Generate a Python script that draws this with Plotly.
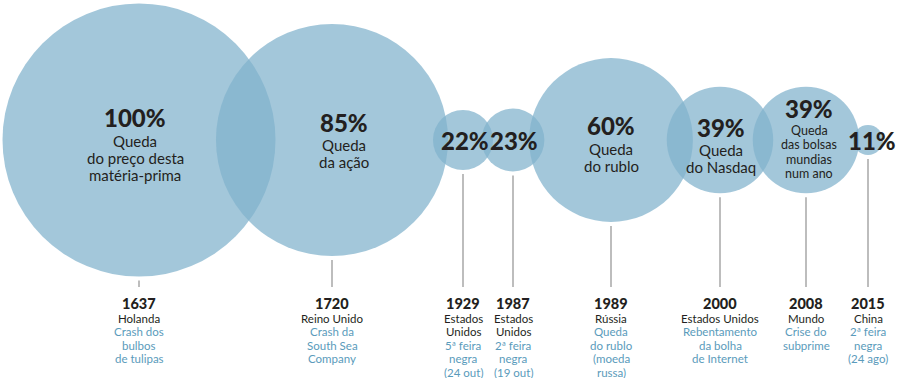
import plotly.graph_objects as go

# ---- data ----
values = [100, 85, 22, 23, 60, 39, 39, 11]
pct_labels = ["100%", "85%", "22%", "23%", "60%", "39%", "39%", "11%"]
inner_text = [
    ["Queda", "do preço desta", "matéria-prima"],
    ["Queda", "da ação"],
    [],
    [],
    ["Queda", "do rublo"],
    ["Queda", "do Nasdaq"],
    ["Queda", "das bolsas", "mundias", "num ano"],
    [],
]
years = ["1637", "1720", "1929", "1987", "1989", "2000", "2008", "2015"]
countries = [
    ["Holanda"],
    ["Reino Unido"],
    ["Estados", "Unidos"],
    ["Estados", "Unidos"],
    ["Rússia"],
    ["Estados Unidos"],
    ["Mundo"],
    ["China"],
]
events = [
    ["Crash dos", "bulbos", "de tulipas"],
    ["Crash da", "South Sea", "Company"],
    ["5ª feira", "negra", "(24 out)"],
    ["2ª feira", "negra", "(19 out)"],
    ["Queda", "do rublo", "(moeda", "russa)"],
    ["Rebentamento", "da bolha", "de Internet"],
    ["Crise do", "subprime"],
    ["2ª feira", "negra", "(24 ago)"],
]

# ---- layout (pixel space) ----
W, H = 900, 378
cx = [139, 332, 463, 513, 611, 720, 806, 868]
cy = 140
px_per_pct = 1.365
text_cx = [135, 344, 465, 514, 611, 721, 809, 872]
pct_y = [117, 122, 140, 140, 125, 127, 108, 140]
sub_gap = [24, 23, 0, 0, 24, 23, 22, 0]
sub_step = [17, 17, 0, 0, 17, 17, 14.5, 0]
sub_size = [15, 15, 0, 0, 15, 15, 12.5, 0]
line_bottom = 287
year_y = 303
first_line_y = 318
line_step = 13.6

DARK = "#231f20"
BLUE = "#5a9bbb"
FILL = "rgb(129,178,204)"
FONT = "Lato"

fig = go.Figure()

# circles (per-point alpha so overlaps darken)
fig.add_trace(go.Scatter(
    x=cx, y=[cy] * len(values), mode="markers",
    marker=dict(size=[2 * v * px_per_pct for v in values], sizemode="diameter",
                color=FILL, opacity=0.73, line=dict(width=0)),
    hoverinfo="skip", showlegend=False,
))

shapes = []
ann = []
for i, v in enumerate(values):
    r = v * px_per_pct
    shapes.append(dict(type="line", xref="x", yref="y", x0=cx[i], x1=cx[i],
                       y0=cy + r + 4, y1=line_bottom,
                       line=dict(color="#9a9a9a", width=1.3)))
    ann.append(dict(x=text_cx[i], y=pct_y[i], text=pct_labels[i],
                    font=dict(family=FONT, size=24, color=DARK, weight=900)))
    for j, t in enumerate(inner_text[i]):
        ann.append(dict(x=text_cx[i], y=pct_y[i] + sub_gap[i] + j * sub_step[i], text=t,
                        font=dict(family=FONT, size=sub_size[i], color=DARK)))
    ann.append(dict(x=cx[i], y=year_y, text=years[i],
                    font=dict(family=FONT, size=14.5, color=DARK, weight=900)))
    k = 0
    for t in countries[i]:
        ann.append(dict(x=cx[i], y=first_line_y + k * line_step, text=t,
                        font=dict(family=FONT, size=11.5, color=DARK)))
        k += 1
    for t in events[i]:
        ann.append(dict(x=cx[i], y=first_line_y + k * line_step, text=t,
                        font=dict(family=FONT, size=11.5, color=BLUE)))
        k += 1

for a in ann:
    a.update(xref="x", yref="y", showarrow=False, xanchor="center", yanchor="middle")

fig.update_layout(
    width=W, height=H,
    margin=dict(l=0, r=0, t=0, b=0),
    paper_bgcolor="white", plot_bgcolor="white",
    xaxis=dict(range=[0, W], visible=False, fixedrange=True),
    yaxis=dict(range=[H, 0], visible=False, fixedrange=True),
    shapes=shapes, annotations=ann,
)

fig.write_html("out.html", config={"displayModeBar": False},
               post_script="document.body.style.margin='0';document.body.style.overflow='hidden';")
